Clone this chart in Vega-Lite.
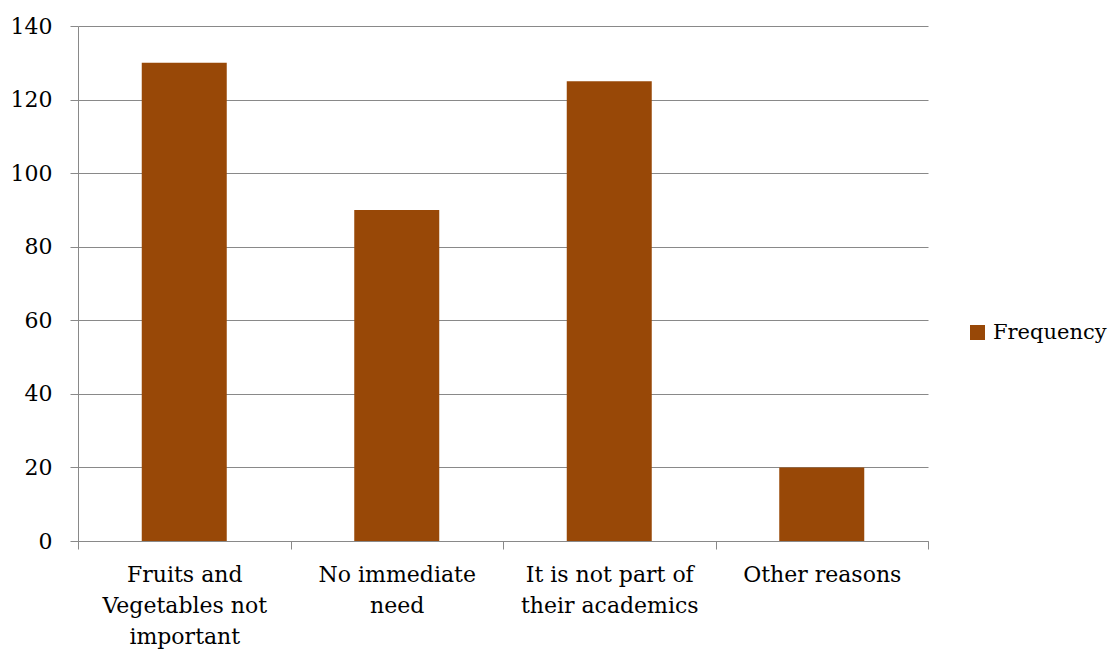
{
  "$schema": "https://vega.github.io/schema/vega-lite/v6.json",
  "width": 850,
  "height": 515,
  "autosize": "none",
  "padding": {"left": 78, "top": 26, "right": 185, "bottom": 108},
  "background": "white",
  "config": {"view": {"stroke": null}, "font": "DejaVu Serif"},
  "data": {
    "values": [
      {"reason": "Fruits and Vegetables not important", "frequency": 130, "series": "Frequency"},
      {"reason": "No immediate need", "frequency": 90, "series": "Frequency"},
      {"reason": "It is not part of their academics", "frequency": 125, "series": "Frequency"},
      {"reason": "Other reasons", "frequency": 20, "series": "Frequency"}
    ]
  },
  "mark": {"type": "bar", "color": "#984807", "width": {"band": 0.4}},
  "encoding": {
    "x": {
      "field": "reason",
      "type": "nominal",
      "sort": null,
      "scale": {"paddingInner": 0, "paddingOuter": 0},
      "axis": {
        "title": null,
        "labelAngle": 0,
        "tickBand": "extent",
        "tickSize": 8,
        "tickColor": "#898989",
        "domainColor": "#898989",
        "labelFont": "DejaVu Serif",
        "labelFontSize": 22,
        "labelColor": "#000000",
        "labelPadding": 15,
        "labelLineHeight": 31,
        "labelBaseline": "top",
        "labelExpr": "datum.value == 'Fruits and Vegetables not important' ? ['Fruits and', 'Vegetables not', 'important'] : datum.value == 'No immediate need' ? ['No immediate', 'need'] : datum.value == 'It is not part of their academics' ? ['It is not part of', 'their academics'] : datum.value"
      }
    },
    "y": {
      "field": "frequency",
      "type": "quantitative",
      "scale": {"domain": [0, 140], "nice": false},
      "axis": {
        "title": null,
        "values": [0, 20, 40, 60, 80, 100, 120, 140],
        "tickSize": 8,
        "tickColor": "#898989",
        "domainColor": "#898989",
        "gridColor": "#898989",
        "grid": true,
        "labelFont": "DejaVu Serif",
        "labelFontSize": 22,
        "labelColor": "#000000",
        "labelPadding": 18
      }
    },
    "color": {
      "field": "series",
      "type": "nominal",
      "scale": {"range": ["#984807"]},
      "legend": {
        "title": null,
        "orient": "none",
        "legendX": 889,
        "legendY": 296,
        "symbolType": "square",
        "symbolSize": 225,
        "symbolStrokeWidth": 0,
        "labelFont": "DejaVu Serif",
        "labelFontSize": 21,
        "labelColor": "#000000",
        "labelOffset": 5,
        "labelLimit": 200
      }
    }
  }
}
